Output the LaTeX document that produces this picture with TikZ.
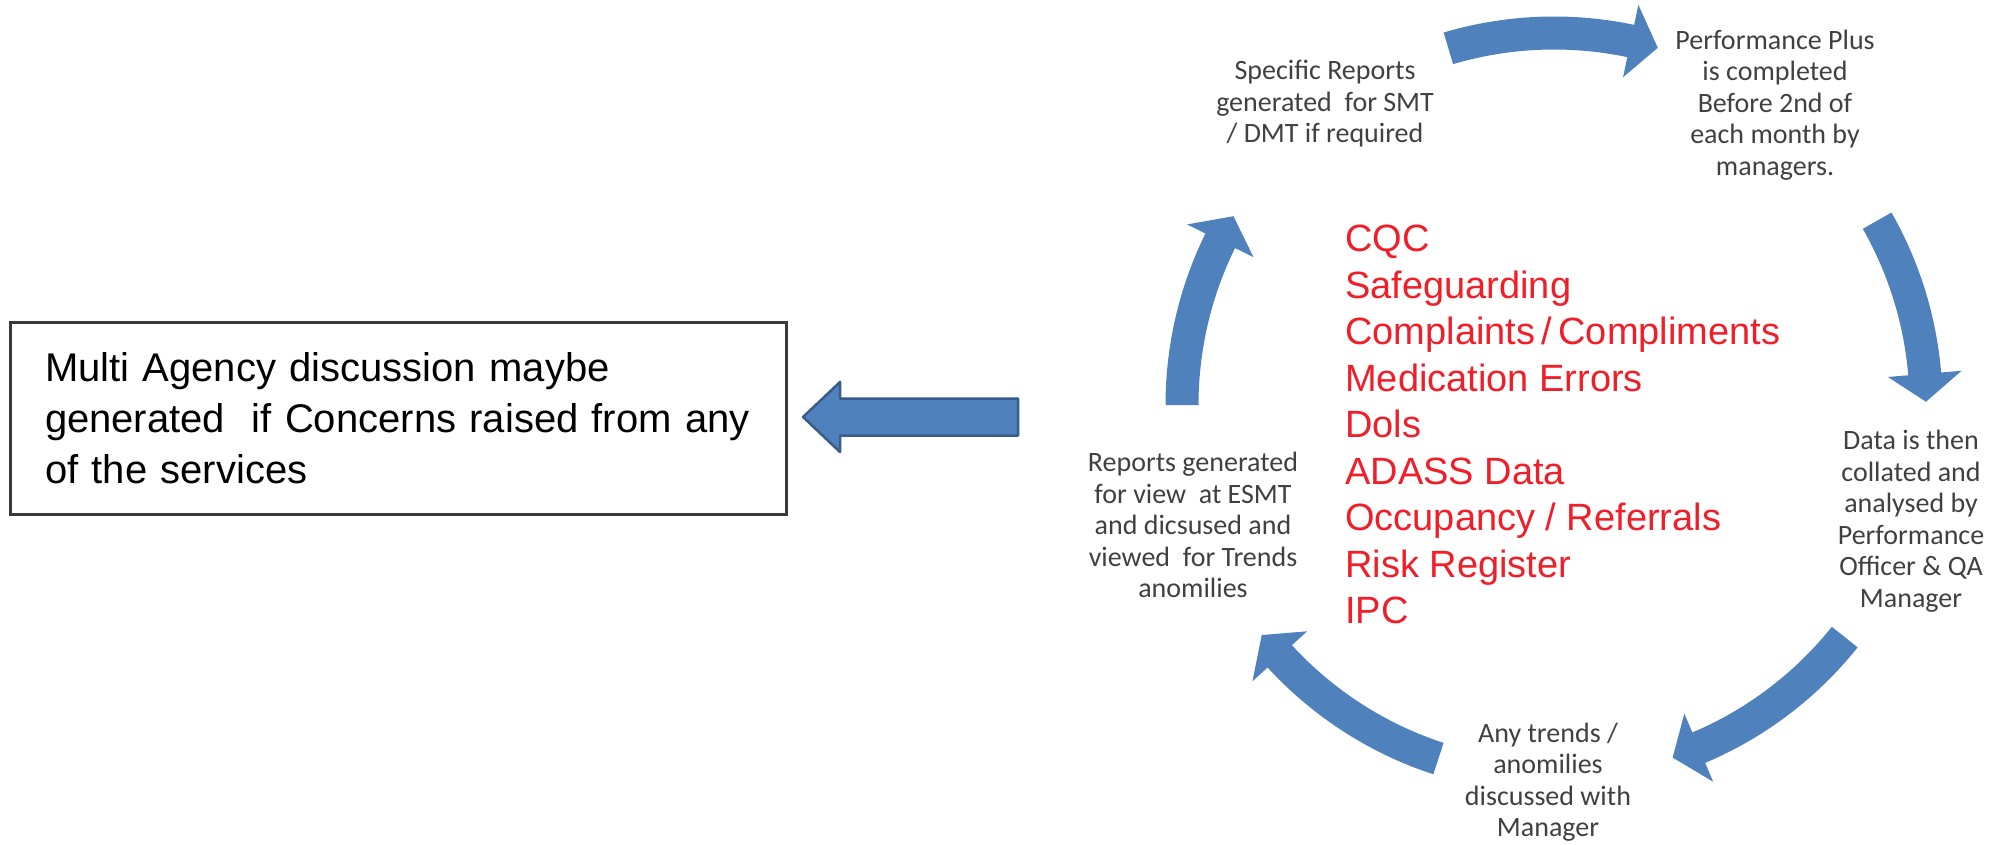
\documentclass[tikz,border=0pt]{standalone}
\usepackage{fontspec}
\setmainfont{Liberation Sans}
\newfontfamily\calibri{Carlito}
\usepackage{tikz}

\definecolor{arrowblue}{HTML}{4F81BD}
\definecolor{arrowedge}{HTML}{385D8A}
\definecolor{notegray}{HTML}{404040}
\definecolor{boxgray}{HTML}{3A3A3A}
\definecolor{itemred}{HTML}{F01E28}

\begin{document}
\begin{tikzpicture}[x=1pt,y=-1pt]
        \tikzstyle{note}=[font=\calibri\fontsize{28}{31.5}\selectfont,align=center,text=notegray,inner sep=0pt]
        \tikzstyle{item}=[font=\fontsize{38}{46}\selectfont,text=itemred,anchor=base west,inner sep=0pt]
        \tikzstyle{msg}=[draw=boxgray,line width=3pt,minimum width=776pt,minimum height=192pt,text width=706pt,align=left,inner xsep=32pt,font=\fontsize{40}{51}\selectfont]
        \tikzstyle{cyclearrow}=[fill=arrowblue]

        \useasboundingbox (0,0) rectangle (2004,845);

        \node[msg](msg) at (398,418){Multi Agency discussion maybe\\generated~ if Concerns raised from any\\of the services};

        \coordinate (tip) at (803,417);
        \draw[fill=arrowblue,draw=arrowedge,line width=2.5pt,line join=round] (tip) -- ++(37,-35) -- ++(0,16.5) -- ++(178,0) -- ++(0,37) -- ++(-178,0) -- ++(0,16.5) -- cycle;

        \node[note](spec) at (1325,104){Specific Reports\\generated~ for SMT\\/ DMT if required};
        \node[note](perf) at (1775,105){Performance Plus\\is completed\\Before 2nd of\\each month by\\managers.};
        \node[note](data) at (1911,521){Data is then\\collated and\\analysed by\\Performance\\Officer \& QA\\Manager};
        \node[note](trend) at (1548,782){Any trends /\\anomilies\\discussed with\\Manager};
        \node[note](rep) at (1193,525){Reports generated\\for view~ at ESMT\\and dicsused and\\viewed~ for Trends\\anomilies};

        \foreach \t [count=\i] in {CQC,Safeguarding,Complaints\,/\,Compliments,Medication Errors,Dols,ADASS Data,Occupancy / Referrals,Risk Register,IPC}
            \node[item](item\i) at (1345,{205+46.5*\i}){\t};

        \begin{scope}[shift={(1554,405)}]
        \foreach \s/\e in {253.5/286.2,330.3/359.5,38.6/71.4,108.1/141.8,180/210.5}{
            \pgfmathsetmacro{\h}{\e-4.3}
            \fill[cyclearrow] (\s:388.5) arc[start angle=\s,end angle=\h,radius=388.5] -- (\h:409) -- (\e:372) -- (\h:335) -- (\h:355.5) arc[start angle=\h,end angle=\s,radius=355.5] -- cycle;
        }
        \end{scope}

    \end{tikzpicture}
\end{document}
